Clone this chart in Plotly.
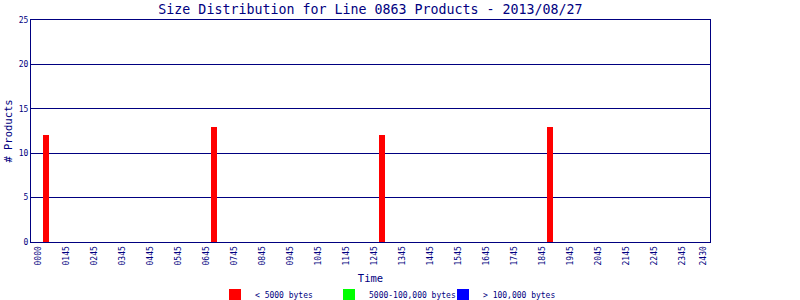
import plotly.graph_objects as go

# Data
bar_times_hours = [0.29, 6.29, 12.29, 18.29]  # bin positions (hours after 0000)
small_counts = [12, 13, 12, 13]                # < 5000 bytes
medium_counts = [0, 0, 0, 0]                   # 5000-100,000 bytes
large_counts = [0, 0, 0, 0]                    # > 100,000 bytes
tick_labels = ["0000"] + ["%02d45" % h for h in range(1, 24)] + ["2430"]
tick_positions = list(range(0, 24)) + [23.75]
y_ticks = [0, 5, 10, 15, 20, 25]

NAVY = "#000080"
MONO = "DejaVu Sans Mono"

fig = go.Figure()
fig.add_trace(go.Bar(x=bar_times_hours, y=small_counts, name="< 5000 bytes",
                     marker=dict(color="#ff0000", line=dict(width=0)), width=0.21))
fig.add_trace(go.Bar(x=bar_times_hours, y=medium_counts, name="5000-100,000 bytes",
                     marker=dict(color="#00ff00", line=dict(width=0)), width=0.21))
fig.add_trace(go.Bar(x=bar_times_hours, y=large_counts, name="> 100,000 bytes",
                     marker=dict(color="#0000ff", line=dict(width=0)), width=0.21))

fig.update_layout(
    barmode="stack",
    width=800, height=300,
    margin=dict(l=31, r=90, t=20, b=58, autoexpand=False),
    paper_bgcolor="white", plot_bgcolor="white",
    font=dict(family=MONO, color=NAVY, size=8),
    title=dict(text="Size Distribution for Line 0863 Products - 2013/08/27",
               x=(31 + 710) / 2 / 800, xanchor="center", y=1 - 9 / 300, yanchor="middle",
               font=dict(family=MONO, size=13.3, color=NAVY)),
    showlegend=True,
    legend=dict(orientation="h", traceorder="normal",
                x=(215 - 31) / 679, xanchor="left",
                y=-53 / 222, yanchor="middle",
                font=dict(family=MONO, size=8, color=NAVY),
                entrywidth=69, entrywidthmode="pixels",
                itemwidth=30, bgcolor="rgba(0,0,0,0)"),
    xaxis=dict(range=[-0.25, 24.0], tickmode="array", tickvals=tick_positions,
               ticktext=tick_labels, tickangle=-90, showgrid=False,
               showline=True, linecolor=NAVY, linewidth=1, mirror=True,
               ticks="", zeroline=False, automargin=False,
               tickfont=dict(family=MONO, size=8, color=NAVY),
               title=dict(text="Time", font=dict(family=MONO, size=10.5, color=NAVY), standoff=10)),
    yaxis=dict(range=[0, 25], tickmode="array", tickvals=y_ticks,
               showgrid=True, gridcolor=NAVY, gridwidth=1,
               showline=True, linecolor=NAVY, linewidth=1, mirror=True,
               ticks="", zeroline=False, automargin=False,
               tickfont=dict(family=MONO, size=8, color=NAVY),
               title=dict(text="# Products", font=dict(family=MONO, size=10.5, color=NAVY), standoff=4)),
)

fig.write_html("out.html")
